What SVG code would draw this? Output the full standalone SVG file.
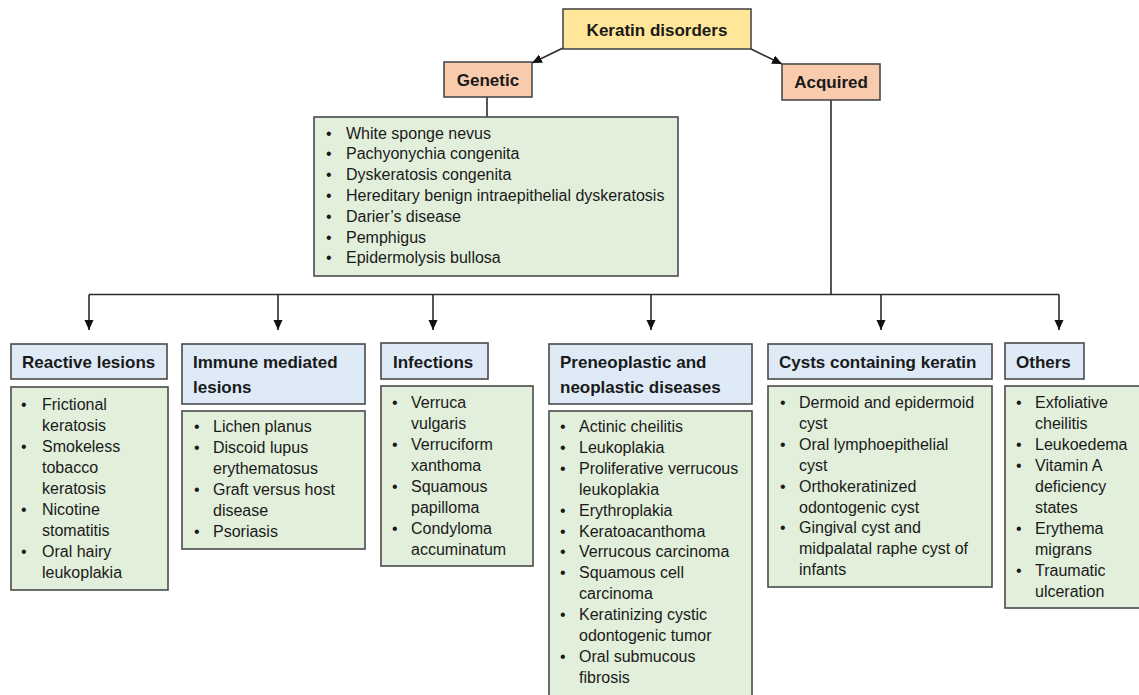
<svg xmlns="http://www.w3.org/2000/svg" width="1139" height="695" viewBox="0 0 1139 695">
<defs>
<style>
.box{stroke:#4a4a4a;stroke-width:1.6}
.root{fill:#FFE699}
.cat{fill:#F8CBAD}
.hdr{fill:#DEEBF7}
.lst{fill:#E2EFDA}
.t{font-family:"Liberation Sans",Arial,sans-serif;font-size:16px;fill:#1a1a1a}
.b{font-family:"Liberation Sans",Arial,sans-serif;font-weight:bold;font-size:17px;fill:#1a1a1a}
.line{fill:none;stroke:#2b2b2b;stroke-width:1.6}
</style>
<marker id="ah" markerUnits="userSpaceOnUse" markerWidth="10" markerHeight="10" refX="10" refY="5" orient="auto">
<path d="M0,0.5 L10,5 L0,9.5 z" fill="#111"/>
</marker>
</defs>
<rect width="1139" height="695" fill="#fff"/>
<g id="connectors">
<line class="line" x1="563" y1="48" x2="532" y2="63" marker-end="url(#ah)"/>
<line class="line" x1="749" y1="48" x2="782" y2="64" marker-end="url(#ah)"/>
<line class="line" x1="487" y1="97" x2="487" y2="117"/>
<polyline class="line" points="831,100 831,294.5"/>
<line class="line" x1="89" y1="294.5" x2="1059" y2="294.5"/>
<line class="line" x1="89" y1="294.5" x2="89" y2="330" marker-end="url(#ah)"/>
<line class="line" x1="278" y1="294.5" x2="278" y2="330" marker-end="url(#ah)"/>
<line class="line" x1="433" y1="294.5" x2="433" y2="330" marker-end="url(#ah)"/>
<line class="line" x1="651" y1="294.5" x2="651" y2="330" marker-end="url(#ah)"/>
<line class="line" x1="881" y1="294.5" x2="881" y2="330" marker-end="url(#ah)"/>
<line class="line" x1="1059" y1="294.5" x2="1059" y2="330" marker-end="url(#ah)"/>
</g>
<g id="root">
<rect class="box root" x="563" y="9" width="188" height="40"/>
<text class="b" x="657" y="36" text-anchor="middle" font-size="20">Keratin disorders</text>
</g>
<g id="genetic">
<rect class="box cat" x="444" y="62" width="88" height="35"/>
<text class="b" x="488" y="85.5" text-anchor="middle" font-size="17.5">Genetic</text>
</g>
<g id="acquired">
<rect class="box cat" x="782" y="64" width="98" height="36"/>
<text class="b" x="831" y="88" text-anchor="middle" font-size="17.5">Acquired</text>
</g>
<g id="genetic-list">
<rect class="box lst" x="314" y="117" width="364" height="159"/>
<g class="t">
<text x="326" y="138.5">•</text><text x="346" y="138.5">White sponge nevus</text>
<text x="326" y="159.3">•</text><text x="346" y="159.3">Pachyonychia congenita</text>
<text x="326" y="180.1">•</text><text x="346" y="180.1">Dyskeratosis congenita</text>
<text x="326" y="200.9">•</text><text x="346" y="200.9">Hereditary benign intraepithelial dyskeratosis</text>
<text x="326" y="221.7">•</text><text x="346" y="221.7">Darier’s disease</text>
<text x="326" y="242.5">•</text><text x="346" y="242.5">Pemphigus</text>
<text x="326" y="263.3">•</text><text x="346" y="263.3">Epidermolysis bullosa</text>
</g>
</g>
<g id="reactive">
<rect class="box hdr" x="11" y="344" width="156" height="35"/>
<text class="b" x="22" y="367.5">Reactive lesions</text>
<rect class="box lst" x="11" y="387" width="157" height="203"/>
<g class="t">
<text x="21" y="410">•</text><text x="42" y="410">Frictional</text>
<text x="42" y="431">keratosis</text>
<text x="21" y="452">•</text><text x="42" y="452">Smokeless</text>
<text x="42" y="473">tobacco</text>
<text x="42" y="494">keratosis</text>
<text x="21" y="515">•</text><text x="42" y="515">Nicotine</text>
<text x="42" y="536">stomatitis</text>
<text x="21" y="557">•</text><text x="42" y="557">Oral hairy</text>
<text x="42" y="578">leukoplakia</text>
</g>
</g>
<g id="immune">
<rect class="box hdr" x="182" y="344" width="183" height="60"/>
<text class="b" x="193" y="367.5">Immune mediated</text>
<text class="b" x="193" y="392.5">lesions</text>
<rect class="box lst" x="182" y="411" width="183" height="138"/>
<g class="t">
<text x="194" y="432">•</text><text x="213" y="432">Lichen planus</text>
<text x="194" y="453">•</text><text x="213" y="453">Discoid lupus</text>
<text x="213" y="474">erythematosus</text>
<text x="194" y="495">•</text><text x="213" y="495">Graft versus host</text>
<text x="213" y="516">disease</text>
<text x="194" y="537">•</text><text x="213" y="537">Psoriasis</text>
</g>
</g>
<g id="infections">
<rect class="box hdr" x="381" y="343" width="107" height="36"/>
<text class="b" x="393" y="367.5">Infections</text>
<rect class="box lst" x="381" y="386" width="152" height="180"/>
<g class="t">
<text x="392" y="407.5">•</text><text x="411" y="407.5">Verruca</text>
<text x="411" y="428.5">vulgaris</text>
<text x="392" y="449.5">•</text><text x="411" y="449.5">Verruciform</text>
<text x="411" y="470.5">xanthoma</text>
<text x="392" y="491.5">•</text><text x="411" y="491.5">Squamous</text>
<text x="411" y="512.5">papilloma</text>
<text x="392" y="533.5">•</text><text x="411" y="533.5">Condyloma</text>
<text x="411" y="554.5">accuminatum</text>
</g>
</g>
<g id="preneoplastic">
<rect class="box hdr" x="549" y="344" width="203" height="60"/>
<text class="b" x="560" y="367.5">Preneoplastic and</text>
<text class="b" x="560" y="392.5">neoplastic diseases</text>
<rect class="box lst" x="549" y="411" width="203" height="300"/>
<g class="t">
<text x="560" y="432">•</text><text x="579" y="432">Actinic cheilitis</text>
<text x="560" y="452.9">•</text><text x="579" y="452.9">Leukoplakia</text>
<text x="560" y="473.8">•</text><text x="579" y="473.8">Proliferative verrucous</text>
<text x="579" y="494.7">leukoplakia</text>
<text x="560" y="515.6">•</text><text x="579" y="515.6">Erythroplakia</text>
<text x="560" y="536.5">•</text><text x="579" y="536.5">Keratoacanthoma</text>
<text x="560" y="557.4">•</text><text x="579" y="557.4">Verrucous carcinoma</text>
<text x="560" y="578.3">•</text><text x="579" y="578.3">Squamous cell</text>
<text x="579" y="599.2">carcinoma</text>
<text x="560" y="620.1">•</text><text x="579" y="620.1">Keratinizing cystic</text>
<text x="579" y="641">odontogenic tumor</text>
<text x="560" y="661.9">•</text><text x="579" y="661.9">Oral submucous</text>
<text x="579" y="682.8">fibrosis</text>
</g>
</g>
<g id="cysts">
<rect class="box hdr" x="768" y="344" width="224" height="35"/>
<text class="b" x="779" y="367.5">Cysts containing keratin</text>
<rect class="box lst" x="768" y="386" width="224" height="201"/>
<g class="t">
<text x="780" y="408">•</text><text x="799" y="408">Dermoid and epidermoid</text>
<text x="799" y="428.9">cyst</text>
<text x="780" y="449.8">•</text><text x="799" y="449.8">Oral lymphoepithelial</text>
<text x="799" y="470.7">cyst</text>
<text x="780" y="491.6">•</text><text x="799" y="491.6">Orthokeratinized</text>
<text x="799" y="512.5">odontogenic cyst</text>
<text x="780" y="533.4">•</text><text x="799" y="533.4">Gingival cyst and</text>
<text x="799" y="554.3">midpalatal raphe cyst of</text>
<text x="799" y="575.2">infants</text>
</g>
</g>
<g id="others">
<rect class="box hdr" x="1005" y="343" width="79" height="36"/>
<text class="b" x="1016" y="367.5">Others</text>
<rect class="box lst" x="1005" y="386" width="140" height="222"/>
<g class="t">
<text x="1016" y="408">•</text><text x="1035" y="408">Exfoliative</text>
<text x="1035" y="429">cheilitis</text>
<text x="1016" y="450">•</text><text x="1035" y="450">Leukoedema</text>
<text x="1016" y="471">•</text><text x="1035" y="471">Vitamin A</text>
<text x="1035" y="492">deficiency</text>
<text x="1035" y="513">states</text>
<text x="1016" y="534">•</text><text x="1035" y="534">Erythema</text>
<text x="1035" y="555">migrans</text>
<text x="1016" y="576">•</text><text x="1035" y="576">Traumatic</text>
<text x="1035" y="597">ulceration</text>
</g>
</g>
</svg>
